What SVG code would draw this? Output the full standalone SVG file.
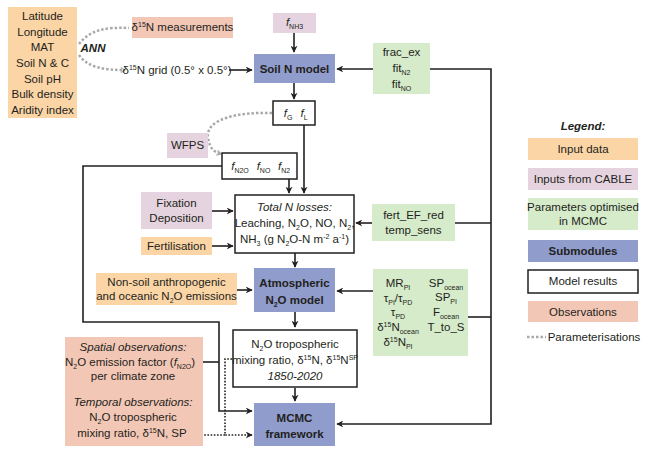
<svg xmlns="http://www.w3.org/2000/svg" width="648" height="457" viewBox="0 0 648 457">
<defs>
<style>
text{font-family:"Liberation Sans",Arial,sans-serif;font-size:11.5px;fill:#231f20;text-anchor:middle}
.b{font-weight:bold}
.i{font-style:italic}
.s{font-size:7px}
.inp{fill:#fbd5a6}
.cab{fill:#e5d4df}
.par{fill:#d6ebca}
.sub{fill:#8f9ccc}
.res{fill:#fff;stroke:#231f20;stroke-width:1.5}
.obs{fill:#f3c7b6}
.ln{fill:none;stroke:#231f20;stroke-width:1.6}
.dt{fill:none;stroke:#231f20;stroke-width:1.6;stroke-dasharray:1.6,1.6}
.gd{fill:none;stroke:#a7a9ac;stroke-width:2.5;stroke-dasharray:2.5,2}
</style>
<marker id="ah" viewBox="0 0 10 10" refX="9" refY="5" markerWidth="7" markerHeight="7" markerUnits="userSpaceOnUse" orient="auto">
<path d="M0,0 L10,5 L0,10 L3,5 z" fill="#231f20"/>
</marker>
<marker id="ga" viewBox="0 0 10 10" refX="8" refY="5" markerWidth="6" markerHeight="6" markerUnits="userSpaceOnUse" orient="auto">
<path d="M1,1 L8,5 L1,9" fill="none" stroke="#a7a9ac" stroke-width="2"/>
</marker>
</defs>
<rect width="648" height="457" fill="#fff"/>

<g id="connectors">
<path class="gd" d="M79,44 C90,30 105,27 129,28"/>
<path class="gd" d="M79,55 C88,68 105,70 125,70" marker-end="url(#ga)"/>
<path class="gd" d="M272,113 C240,112 205,118 208,138 C210,149 214,152 221,154" marker-end="url(#ga)"/>
<path class="ln" d="M229,70 H252" marker-end="url(#ah)"/>
<path class="ln" d="M294,33 V52" marker-end="url(#ah)"/>
<path class="ln" d="M373,69 H337" marker-end="url(#ah)"/>
<path class="ln" d="M430,69 H491 V424 H337" marker-end="url(#ah)"/>
<path class="ln" d="M294,83 V99" marker-end="url(#ah)"/>
<path class="ln" d="M304,125 V193" marker-end="url(#ah)"/>
<path class="ln" d="M289,179 V193" marker-end="url(#ah)"/>
<path class="ln" d="M222,166 H83 V322 H219 V411 H252" marker-end="url(#ah)"/>
<path class="ln" d="M196,362 H219"/>
<path class="ln" d="M212,211 H233" marker-end="url(#ah)"/>
<path class="ln" d="M212,246 H233" marker-end="url(#ah)"/>
<path class="ln" d="M372,223 H356" marker-end="url(#ah)"/>
<path class="ln" d="M455,223 H491"/>
<path class="ln" d="M295,253 V267" marker-end="url(#ah)"/>
<path class="ln" d="M237,290 H252" marker-end="url(#ah)"/>
<path class="ln" d="M373,291 H337" marker-end="url(#ah)"/>
<path class="ln" d="M468,317 H491"/>
<path class="ln" d="M295,312 V327" marker-end="url(#ah)"/>
<path class="ln" d="M295,388 V401" marker-end="url(#ah)"/>
<path class="dt" d="M232,359 H225 V435 H252" marker-end="url(#ah)"/>
<path class="dt" d="M185,435 H225"/>
</g>

<g id="input-data">
<rect class="inp" x="8" y="7" width="69" height="111"/>
<text x="42.5" y="20">Latitude</text>
<text x="42.5" y="36">Longitude</text>
<text x="42.5" y="51">MAT</text>
<text x="42.5" y="67">Soil N &amp; C</text>
<text x="42.5" y="83">Soil pH</text>
<text x="42.5" y="98">Bulk density</text>
<text x="42.5" y="114">Aridity index</text>
</g>
<g id="ann"><text class="b i" x="93" y="52">ANN</text></g>

<g id="d15n-meas">
<rect class="obs" x="132" y="17" width="101" height="21"/>
<text x="182.5" y="31">δ<tspan class="s" baseline-shift="4">15</tspan>N measurements</text>
</g>
<g id="d15n-grid">
<text x="177" y="74">δ<tspan class="s" baseline-shift="4">15</tspan>N grid (0.5° x 0.5°)</text>
</g>

<g id="fnh3">
<rect class="cab" x="273" y="13" width="43" height="20"/>
<text x="294.5" y="26"><tspan class="i">f</tspan><tspan class="s" baseline-shift="-2.5">NH3</tspan></text>
</g>

<g id="soil-n-model">
<rect class="sub" x="254" y="54" width="81" height="29"/>
<text class="b" x="294.5" y="73">Soil N model</text>
</g>

<g id="params-soil">
<rect class="par" x="373" y="43" width="57" height="51"/>
<text x="401.5" y="56">frac_ex</text>
<text x="401.5" y="72">fit<tspan class="s" baseline-shift="-2.5">N2</tspan></text>
<text x="401.5" y="88">fit<tspan class="s" baseline-shift="-2.5">NO</tspan></text>
</g>

<g id="fg-fl">
<rect class="res" x="273" y="101" width="42" height="24"/>
<text x="288" y="117"><tspan class="i">f</tspan><tspan class="s" baseline-shift="-2.5">G</tspan></text>
<text x="304" y="117"><tspan class="i">f</tspan><tspan class="s" baseline-shift="-2.5">L</tspan></text>
</g>

<g id="wfps">
<rect class="cab" x="167" y="133" width="41" height="25"/>
<text x="187.5" y="149">WFPS</text>
</g>

<g id="fn2o">
<rect class="res" x="222" y="153" width="75" height="26"/>
<text x="240" y="170"><tspan class="i">f</tspan><tspan class="s" baseline-shift="-2.5">N2O</tspan></text>
<text x="263.5" y="170"><tspan class="i">f</tspan><tspan class="s" baseline-shift="-2.5">NO</tspan></text>
<text x="284" y="170"><tspan class="i">f</tspan><tspan class="s" baseline-shift="-2.5">N2</tspan></text>
</g>

<g id="fixation">
<rect class="cab" x="141" y="192" width="71" height="37"/>
<text x="176.5" y="207">Fixation</text>
<text x="176.5" y="222">Deposition</text>
</g>

<g id="fertilisation">
<rect class="inp" x="141" y="237" width="71" height="18"/>
<text x="176.5" y="250">Fertilisation</text>
</g>

<g id="total-n">
<rect class="res" x="235" y="195" width="119" height="58"/>
<text class="i" x="294.5" y="211">Total N losses:</text>
<text x="294.5" y="227">Leaching, N<tspan class="s" baseline-shift="-2.5">2</tspan>O, NO, N<tspan class="s" baseline-shift="-2.5">2</tspan>,</text>
<text x="294.5" y="243">NH<tspan class="s" baseline-shift="-2.5">3</tspan> (g N<tspan class="s" baseline-shift="-2.5">2</tspan>O-N m<tspan class="s" baseline-shift="4">-2</tspan> a<tspan class="s" baseline-shift="4">-1</tspan>)</text>
</g>

<g id="params-fert">
<rect class="par" x="372" y="204" width="83" height="37"/>
<text x="413.5" y="219">fert_EF_red</text>
<text x="413.5" y="234">temp_sens</text>
</g>

<g id="nonsoil">
<rect class="inp" x="96" y="273" width="141" height="32"/>
<text x="166.5" y="286">Non-soil anthropogenic</text>
<text x="166.5" y="300">and oceanic N<tspan class="s" baseline-shift="-2.5">2</tspan>O emissions</text>
</g>

<g id="atmos-model">
<rect class="sub" x="254" y="268" width="81" height="44"/>
<text class="b" x="294.5" y="287">Atmospheric</text>
<text class="b" x="294.5" y="304">N<tspan class="s" baseline-shift="-2.5">2</tspan>O model</text>
</g>

<g id="params-atm">
<rect class="par" x="373" y="269" width="95" height="87"/>
<text x="398" y="287">MR<tspan class="s" baseline-shift="-2.5">PI</tspan></text>
<text x="398" y="302">τ<tspan class="s" baseline-shift="-2.5">PI</tspan>/τ<tspan class="s" baseline-shift="-2.5">PD</tspan></text>
<text x="398" y="316">τ<tspan class="s" baseline-shift="-2.5">PD</tspan></text>
<text x="398" y="331">δ<tspan class="s" baseline-shift="4">15</tspan>N<tspan class="s" baseline-shift="-2.5">ocean</tspan></text>
<text x="398" y="346">δ<tspan class="s" baseline-shift="4">15</tspan>N<tspan class="s" baseline-shift="-2.5">PI</tspan></text>
<text x="446" y="287">SP<tspan class="s" baseline-shift="-2.5">ocean</tspan></text>
<text x="446" y="301">SP<tspan class="s" baseline-shift="-2.5">PI</tspan></text>
<text x="446" y="316">F<tspan class="s" baseline-shift="-2.5">ocean</tspan></text>
<text x="446" y="331">T_to_S</text>
</g>

<g id="tropo">
<rect class="res" x="233" y="330" width="124" height="57"/>
<text x="295" y="348">N<tspan class="s" baseline-shift="-2.5">2</tspan>O tropospheric</text>
<text x="295" y="364">mixing ratio, δ<tspan class="s" baseline-shift="4">15</tspan>N, δ<tspan class="s" baseline-shift="4">15</tspan>N<tspan class="s" baseline-shift="4">SP</tspan></text>
<text class="i" x="295" y="380">1850-2020</text>
</g>

<g id="mcmc">
<rect class="sub" x="254" y="403" width="81" height="43"/>
<text class="b" x="294.5" y="422">MCMC</text>
<text class="b" x="294.5" y="438">framework</text>
</g>

<g id="observations">
<rect class="obs" x="65" y="337" width="138" height="109"/>
<text class="i" x="133" y="351">Spatial observations:</text>
<text x="130" y="366">N<tspan class="s" baseline-shift="-2.5">2</tspan>O emission factor (<tspan class="i">f</tspan><tspan class="s" baseline-shift="-2.5">N2O</tspan>)</text>
<text x="133" y="380">per climate zone</text>
<text class="i" x="133" y="406">Temporal observations:</text>
<text x="133" y="421">N<tspan class="s" baseline-shift="-2.5">2</tspan>O tropospheric</text>
<text x="132" y="437">mixing ratio, δ<tspan class="s" baseline-shift="4">15</tspan>N, SP</text>
</g>

<g id="legend">
<text class="b i" x="583" y="130">Legend:</text>
<rect class="inp" x="528" y="138" width="110" height="22"/>
<text x="583" y="153">Input data</text>
<rect class="cab" x="528" y="168" width="110" height="22"/>
<text x="583" y="183">Inputs from CABLE</text>
<rect class="par" x="528" y="198" width="110" height="32"/>
<text x="583" y="211">Parameters optimised</text>
<text x="583" y="225">in MCMC</text>
<rect class="sub" x="528" y="240" width="110" height="22"/>
<text class="b" x="583" y="255">Submodules</text>
<rect class="res" x="528" y="270" width="110" height="23"/>
<text x="583" y="285">Model results</text>
<rect class="obs" x="528" y="301" width="110" height="21"/>
<text x="583" y="316">Observations</text>
<path class="gd" d="M527,337 H546"/>
<text x="594" y="341">Parameterisations</text>
</g>
</svg>
